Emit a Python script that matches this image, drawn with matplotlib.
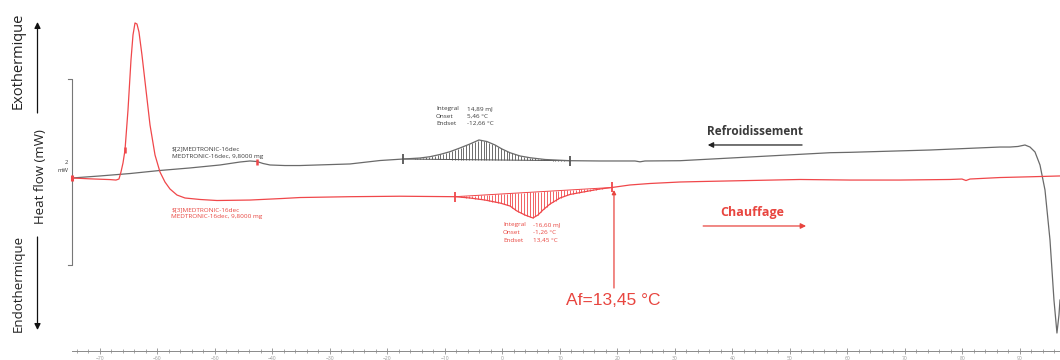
import numpy as np
import matplotlib
matplotlib.use("Agg")
import matplotlib.pyplot as plt
from matplotlib.ticker import FixedLocator

# ---------------- data (temperature in °C, heat flow in mW) ----------------
heat_T = [-74.87, -71.74, -68.26, -67.22, -66.70, -66.35, -66.00, -65.65, -65.13, -64.61,
          -64.26, -63.91, -63.57, -63.22, -62.70, -62.00, -61.30, -60.43, -59.57, -58.70,
          -57.83, -56.61, -55.22, -52.61, -49.65, -43.91, -38.17, -35.22, -26.52, -17.83,
          -8.26, -5.65, -3.04, -0.43, 1.30, 2.52, 3.91, 5.30, 6.17, 7.04,
          8.26, 10.00, 11.74, 14.00, 16.96, 19.04, 22.17, 25.65, 30.87, 34.35,
          43.04, 51.74, 60.43, 69.13, 77.83, 79.91, 80.61, 81.30, 86.52, 91.74, 96.96]
heat_HF = [0.000, -0.009, -0.017, -0.022, -0.011, 0.065, 0.161, 0.301, 0.731, 1.269,
           1.538, 1.667, 1.656, 1.570, 1.323, 0.946, 0.570, 0.247, 0.065, -0.043,
           -0.118, -0.183, -0.215, -0.231, -0.242, -0.237, -0.220, -0.210, -0.201, -0.196,
           -0.201, -0.215, -0.237, -0.269, -0.301, -0.355, -0.398, -0.430, -0.398, -0.344,
           -0.280, -0.215, -0.177, -0.151, -0.118, -0.102, -0.075, -0.059, -0.043, -0.038,
           -0.027, -0.016, -0.022, -0.022, -0.016, -0.011, -0.027, -0.011, 0.005, 0.013, 0.022]

cool_T = [-74.87, -70.00, -64.78, -59.57, -54.35, -49.13, -45.65, -43.91, -42.70, -41.65,
          -40.43, -37.83, -35.22, -26.52, -21.30, -17.30, -14.35, -12.61, -10.87, -9.13,
          -7.39, -5.65, -4.09, -2.70, -1.30, -0.09, 1.30, 3.04, 4.78, 7.39,
          11.74, 16.96, 23.04, 23.91, 24.78, 30.87, 43.04, 57.00, 60.43, 74.35,
          86.52, 88.26, 89.65, 90.87, 91.74, 92.61, 93.48, 94.35, 95.22, 95.91,
          96.43, 96.78, 96.96]
cool_HF = [0.000, 0.022, 0.048, 0.081, 0.108, 0.140, 0.172, 0.183, 0.177, 0.156,
           0.140, 0.134, 0.134, 0.151, 0.188, 0.204, 0.215, 0.229, 0.253, 0.283,
           0.323, 0.366, 0.409, 0.392, 0.355, 0.312, 0.272, 0.237, 0.218, 0.199,
           0.186, 0.183, 0.183, 0.174, 0.183, 0.186, 0.226, 0.272, 0.276, 0.301,
           0.333, 0.333, 0.339, 0.355, 0.333, 0.280, 0.140, -0.129, -0.667, -1.312,
           -1.667, -1.473, -1.312]

cool_limits = [-17.30, 11.74]
heat_limits = [-8.26, 19.04]

result_names = ["Integral", "Onset", "Endset"]
cool_values = ["14,89 mJ", "5,46 °C", "-12,66 °C"]
heat_values = ["-16,60 mJ", "-1,26 °C", "13,45 °C"]

cool_labels = ["$[2]MEDTRONIC-16dec", "MEDTRONIC-16dec, 9,8000 mg"]
heat_labels = ["$[3]MEDTRONIC-16dec", "MEDTRONIC-16dec, 9,8000 mg"]
af_text = "Af=13,45 °C"

major_ticks = np.arange(-70, 91, 10)
minor_ticks = np.arange(-74, 97, 2)

# ---------------- styling ----------------
RED = "#f0474a"
RED_TXT = "#e8453f"
GRAY = "#6a6a6a"
DARK = "#3a3a3a"
plt.rcParams['font.family'] = ['Open Sans', 'DejaVu Sans']

fig = plt.figure(figsize=(10.6, 3.6), dpi=100)
ax = fig.add_axes([0, 0, 1, 1])
ax.set_xlim(-87.39, 96.96)
ax.set_ylim(-1.957, 1.914)

for s in ['top', 'left', 'right']:
    ax.spines[s].set_visible(False)
ax.spines['bottom'].set_position(('data', -1.860))
ax.spines['bottom'].set_bounds(-74.9, 96.96)
ax.spines['bottom'].set_color('#8a8a8a')
ax.spines['bottom'].set_linewidth(0.7)
ax.set_xticks(major_ticks)
ax.xaxis.set_minor_locator(FixedLocator(minor_ticks))
ax.tick_params(axis='x', which='major', direction='inout', length=5, width=0.6,
               colors='#8a8a8a', labelsize=3.6, pad=0.8, labelcolor='#9a9a9a')
ax.tick_params(axis='x', which='minor', direction='inout', length=3, width=0.5,
               colors='#8a8a8a')
ax.set_yticks([])

# curves
ax.plot(cool_T, cool_HF, color=GRAY, lw=0.9, zorder=3)
ax.plot(heat_T, heat_HF, color=RED, lw=0.9, zorder=3)

# hatched peak areas
def hatch(T, HF, lim, color):
    Tg = np.arange(lim[0], lim[1], 0.5)
    top = np.interp(Tg, T, HF)
    b0, b1 = np.interp(lim, T, HF)
    base = np.interp(Tg, lim, [b0, b1])
    ax.vlines(Tg, base, top, color=color, lw=0.6, zorder=2)
    ax.plot(lim, [b0, b1], color=color, lw=0.7, zorder=2)
    ax.plot(lim, [b0, b1], ls='none', marker='|', ms=7, mew=1.3, color=color, zorder=4)

hatch(cool_T, cool_HF, cool_limits, '#555555')
hatch(heat_T, heat_HF, heat_limits, RED)

# small markers
ax.plot([cool_T[0]], [cool_HF[0]], ls='none', marker='|', ms=4, mew=2.2, color=RED, zorder=5)
ax.plot([-65.65], [np.interp(-65.65, heat_T, heat_HF)], ls='none', marker='|', ms=4,
        mew=1.8, color=RED, zorder=5)
ax.plot([-42.7], [np.interp(-42.7, cool_T, cool_HF)], ls='none', marker='|', ms=4,
        mew=1.8, color=RED, zorder=5)

# scale bar "2 mW"
ax.plot([-75.57, -74.87, -74.87, -75.57], [1.065, 1.065, -0.935, -0.935],
        color='#777777', lw=0.8)
ax.text(-75.9, 0.172, "2", fontsize=4.2, color=DARK, ha='center', va='center')
ax.text(-76.4, 0.086, "mW", fontsize=4.2, color=DARK, ha='center', va='center')

# curve labels
for i, s in enumerate(cool_labels):
    ax.text(-57.5, 0.309 - 0.080 * i, s.replace('$', r'\$'), fontsize=4.6, color=DARK,
            ha='left', va='center')
for i, s in enumerate(heat_labels):
    ax.text(-57.6, -0.344 - 0.072 * i, s.replace('$', r'\$'), fontsize=4.6, color=RED_TXT,
            ha='left', va='center')

# integration results
for i, (n, v) in enumerate(zip(result_names, cool_values)):
    y = 0.742 - 0.076 * i
    ax.text(-11.57, y, n, fontsize=4.6, color=DARK, ha='left', va='center')
    ax.text(-6.17, y, v, fontsize=4.6, color=DARK, ha='left', va='center')
for i, (n, v) in enumerate(zip(result_names, heat_values)):
    y = -0.505 - 0.082 * i
    ax.text(0.09, y, n, fontsize=4.6, color=RED_TXT, ha='left', va='center')
    ax.text(5.30, y, v, fontsize=4.6, color=RED_TXT, ha='left', va='center')

# direction labels
ax.text(43.9, 0.505, "Refroidissement", fontsize=8.5, fontweight='bold', color=DARK,
        ha='center', va='center')
ax.annotate("", xy=(35.7, 0.355), xytext=(52.1, 0.355),
            arrowprops=dict(arrowstyle='-|>', color='#222222', lw=0.9,
                            mutation_scale=8, shrinkA=0, shrinkB=0))
ax.text(43.4, -0.366, "Chauffage", fontsize=9, fontweight='bold', color=RED_TXT,
        ha='center', va='center')
ax.annotate("", xy=(52.8, -0.516), xytext=(34.9, -0.516),
            arrowprops=dict(arrowstyle='-|>', color=RED_TXT, lw=0.9,
                            mutation_scale=8, shrinkA=0, shrinkB=0))

# Af annotation
ax.annotate("", xy=(19.39, -0.129), xytext=(19.39, -1.183),
            arrowprops=dict(arrowstyle='-|>', color=RED_TXT, lw=0.9,
                            mutation_scale=6, shrinkA=0, shrinkB=0))
ax.text(19.2, -1.312, af_text, fontsize=12.5, color=RED_TXT, ha='center', va='center',
        family=['Liberation Sans', 'DejaVu Sans'])

# left side labels (figure fraction)
W, H = 1060.0, 360.0
fig.text(18 / W, 1 - 61 / H, "Exothermique", rotation=90, fontsize=10.5, color='#222222',
         ha='center', va='center')
fig.text(40 / W, 1 - 177 / H, "Heat flow (mW)", rotation=90, fontsize=9.5, color='#222222',
         ha='center', va='center')
fig.text(18 / W, 1 - 283 / H, "Endothermique", rotation=90, fontsize=9.5, color='#222222',
         ha='center', va='center')
ax.annotate("", xy=(37.5 / W, 1 - 22 / H), xytext=(37.5 / W, 1 - 113 / H),
            xycoords='figure fraction', textcoords='figure fraction',
            arrowprops=dict(arrowstyle='-|>', color='#111111', lw=0.9,
                            mutation_scale=9, shrinkA=0, shrinkB=0))
ax.annotate("", xy=(37.5 / W, 1 - 330 / H), xytext=(37.5 / W, 1 - 237 / H),
            xycoords='figure fraction', textcoords='figure fraction',
            arrowprops=dict(arrowstyle='-|>', color='#111111', lw=0.9,
                            mutation_scale=9, shrinkA=0, shrinkB=0))

fig.savefig("out.png", dpi=100)
